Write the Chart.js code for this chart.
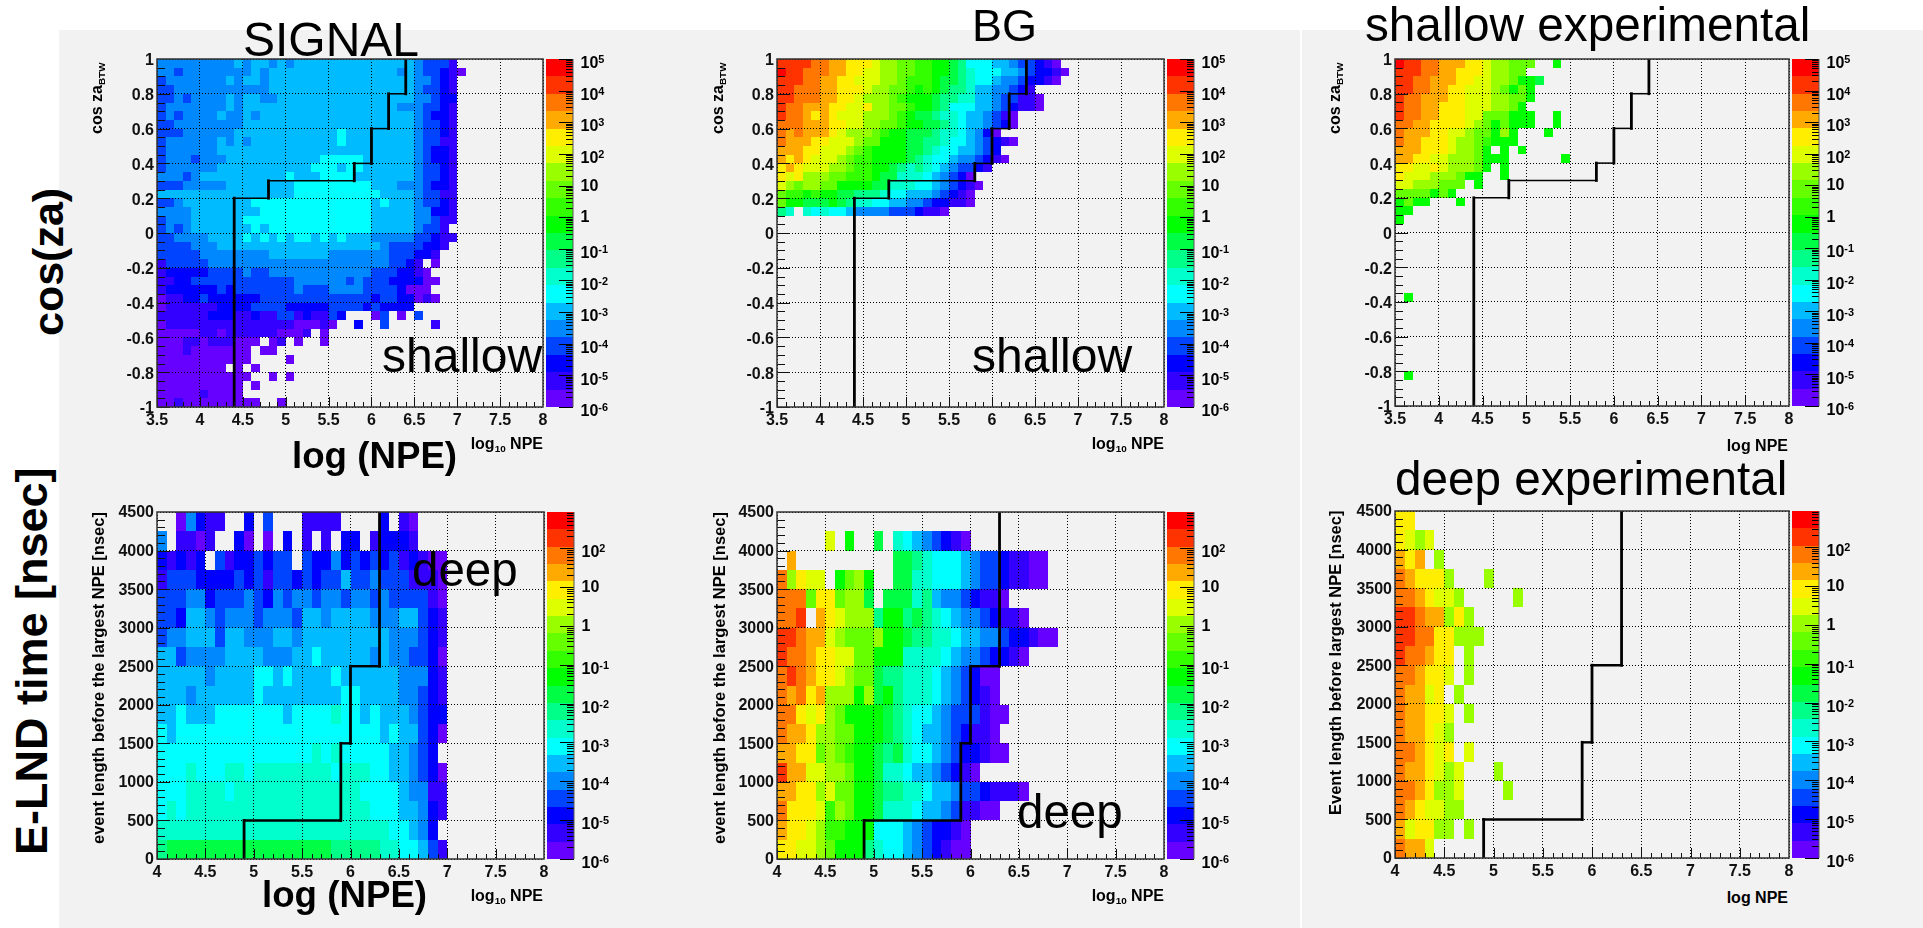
<!DOCTYPE html>
<html>
<head>
<meta charset="utf-8">
<title>NPE cut plots</title>
<script src="https://cdn.jsdelivr.net/npm/chart.js@4"></script>
<style>
  html, body { margin: 0; width: 1923px; height: 928px; overflow: hidden; background: #fff; font-family: "Liberation Sans", Arial, sans-serif; }
  .bg { position: absolute; top: 30px; bottom: 0; background: #f2f2f2; }
  canvas { position: absolute; }
  .t { position: absolute; white-space: nowrap; line-height: 1; color: #000; z-index: 5; }
  .v { transform: rotate(-90deg); transform-origin: 0 0; }
  sub { font-size: 62%; line-height: 0; vertical-align: -0.28em; }
  sup { font-size: 68%; line-height: 0; vertical-align: 0.5em; }
</style>
</head>
<body>
<div class="bg" style="left:59px;width:1241px"></div>
<div class="bg" style="left:1302px;right:0"></div>
<canvas id="signalShallow" width="526" height="388"></canvas>
<canvas id="bgShallow" width="527" height="388"></canvas>
<canvas id="expShallow" width="534" height="387"></canvas>
<canvas id="signalDeep" width="527" height="387"></canvas>
<canvas id="bgDeep" width="527" height="387"></canvas>
<canvas id="expDeep" width="534" height="387"></canvas>
<script>
// colour bands of the z axis, bottom to top
const palette = ['#6600ff', '#3300ff', '#0000ff', '#0044ff', '#0088ff', '#00bbff', '#00ffff', '#00ffcc', '#00ff88', '#00ff44',
  '#00ff00', '#33ff00', '#66ff00', '#99ff00', '#ddff00', '#ffee00', '#ffaa00', '#ff7700', '#ff3300', '#ff0000'];

const shallowXTicks = [3.5, 4, 4.5, 5, 5.5, 6, 6.5, 7, 7.5, 8];
const shallowYTicks = [-1, -0.8, -0.6, -0.4, -0.2, 0, 0.2, 0.4, 0.6, 0.8, 1];
const deepXTicks = [4, 4.5, 5, 5.5, 6, 6.5, 7, 7.5, 8];
const deepYTicks = [0, 500, 1000, 1500, 2000, 2500, 3000, 3500, 4000, 4500];
const shallowZTicks = [-6, -5, -4, -3, -2, -1, 0, 1, 2, 3, 4, 5];
const deepZTicks = [-6, -5, -4, -3, -2, -1, 0, 1, 2];

// selection cut, same for all panels of a row
const shallowCutX = [4.4, 4.4, 4.8, 4.8, 5.8, 5.8, 6, 6, 6.2, 6.2, 6.4, 6.4];
const shallowCutY = [-1, 0.2, 0.2, 0.3, 0.3, 0.4, 0.4, 0.6, 0.6, 0.8, 0.8, 1];
const deepCutX = [4.9, 4.9, 5.9, 5.9, 6, 6, 6.3, 6.3];
const deepCutY = [0, 500, 500, 1500, 1500, 2500, 2500, 4500];

// Histogram rows, top row first. One char per 0.1 log NPE bin: colour band 0-9,a-j, '.' = empty.
// Spaces only split the bins in tens.
const signalShallowRows = [
  '4444444445 4554545555 5555555555 43331',
  '4434444444 4545555555 5555555545 433210',
  '3444444454 5545555555 5555555555 44321',
  '3344444444 4445555555 5555555555 43321',
  '3343444454 5544555555 5555555555 44322',
  '3444444454 5555555555 5555555544 43321',
  '3434444544 5455555555 5555555555 43221',
  '3344444444 5555555555 5555555555 43321',
  '3334444445 5555555555 5655555555 43321',
  '3444444545 4555555555 5655555555 43311',
  '3444444555 5555555555 5555555555 43221',
  '3444344455 5555555556 6666555555 43221',
  '3444444555 5555555566 6566555555 43321',
  '4443455555 5555565556 6665555555 43321',
  '3334444455 5555556666 6666655544 43221',
  '5555555555 5555556666 6666665555 43311',
  '3345555555 5666666666 6666656555 43321',
  '4444555555 5566666666 6666655555 44221',
  '3444555555 6666666666 6666655555 44311',
  '3434555555 5656666666 6666655555 4331',
  '3344445555 6565656656 5655544444 33211',
  '3333444555 5555555555 5555554333 3221',
  '3333344444 4445555555 4444444333 221',
  '1333334444 4444444444 4444444332 1.0',
  '1222223333 4334444444 4444433322 10',
  '1122333333 3333334444 4434333222 200',
  '1222222323 3333334333 4444333320 00',
  '0112232222 2233333333 3333323322 010',
  '0111111222 2333322222 3333232222',
  '1111112221 1211331211 32...03.0. 3',
  '0111111111 1111110001 0..2..3... ..1',
  '0000011011 1111000 1.0',
  '0001101110 00.01.0..0',
  '0001000000 0.00',
  '0000000000 0....0',
  '00000000.0 .0',
  '0000000000 0..0.0',
  '0000000000 .0',
  '0000010000',
  '0010000000 00..0',
];
const bgShallowRows = [
  'iiiihhggff feddccbbaa 9866655433 210',
  'jiihhhggff eeddccbbaa 9876665543 2210',
  'iiihhggffe eeddcbbba9 9876654432 210',
  'iihhhggfff eddccbaba9 8875544321',
  'iihhhggffe dddcbaaa98 8775543311 0',
  'ihhgggffee fddccbaa98 6665543211 0',
  'ihhgfgfeee dddcba9987 76554310',
  'hhhgggffee ddccbaa998 76554320',
  'hghgggfedd dcbaa99987 765420',
  'hgggffeeed ccaaa99887 66543210',
  'gggffeeedc baaaa99876 655432',
  'gfgfeeedcb baaaa98766 5443210',
  'fgfeeeddcb baa9878765 43321',
  'fefdddccbb ba99777654 320',
  'edcddccaaa a997776654 3210',
  'cbbabaa998 8876655543 210',
  'caa999a987 7665544322 110',
  '87.7676654 4443332110',
];
const expShallowRows = [
  'jiihhgggff eddccc..a',
  'iiihhggfff eddcc',
  'iihhgggffe eddcaa9',
  'iihhggffee edcaca',
  'ihhgggffee eddcca',
  'ihhggfffee eddca',
  'ihhggfffee cccaaa..a',
  'hhggffffed cacaaa..a',
  'hgggffeedc cada...a',
  'hggfffeddc baaa',
  'gggfffeddc a.a.a',
  'ggffeedddc aaa......a',
  'ffeefedddc a.a',
  'feeedddcaa ..a',
  'eedddccc.a',
  'ccccaca',
  'acaa...a',
  'aa',
  'a',
  '', '', '', '', '', '', '', '',
  '.a',
  '', '', '', '', '', '', '', '',
  '.a',
];
const signalDeepRows = [
  '..04211..2 .3...1111. ...2.10',
  '4.1101..20 .0.2.1.1.2 2.12221',
  '21212.3122 3233.32242 3232312100',
  '1333222232 3133232335 3343331110',
  '3334423334 3243443443 4434333310',
  '3325543444 3444355455 5544455321',
  '3445553554 4455455555 5555444321',
  '5534444555 5444556555 5545443320',
  '5555545555 6656555565 5555544421',
  '5554555555 6555555556 6555544321',
  '5565556666 6665666676 6565554322',
  '6566666666 6666666666 6665655320',
  '6666666666 6666667676 666655432.',
  '6667666776 7777777767 7766554320',
  '6667777677 7777777777 7666654411',
  '6767777777 7777777777 7766655421',
  '7777777777 7777777777 777766542.',
  '8999999999 9999999988 8887766531',
];
const bgDeepRows = [
  '',
  '.....e.a.. 9.76543210',
  '.g........ ..99876665 43321100',
  'hdfee.acda ..99776665 43321100',
  'hhhcffcdd9 .999785443 2110',
  'hhi.gfeddd 8aa8987654 432110',
  'iihggedccc daa9887765 544322100',
  'ihhgffeecc aaa7777654 432210',
  'hihgffedcc 9887776543 200',
  'hghfgdddad 9a87776543 210',
  'hhfefdcaaa a987665433 3100',
  'hggfddccaa a987655432 110',
  'ggffcdcbaa 9897665432 2100',
  'iggeeddcaa 9776554321 0',
  'ggffdeccaa 9887765543 321110',
  'hfffebdcaa 9777655431 100',
  'gffedbbaaa 6665432210',
  'ffeedcaaa8 7665432100',
];
const expDeepRows = [
  'ff',
  'fede',
  'gfg.d',
  'hgfffd...d',
  'hhgfeed... ..d',
  'iihggdfd',
  'iihhffddd',
  'ihhgff.d',
  'hhgffe.d',
  'hggef.d',
  'hggffe.d',
  'hggfed',
  'hhgfef.e',
  'hggfede... d',
  'hhgfdde... .d',
  'hgfeedd',
  'geffdd.d',
  'hgge',
];

const panels = [
  { id: 'signalShallow', rows: signalShallowRows, kind: 'shallow', box: [157, 543, 59, 407] },
  { id: 'bgShallow', rows: bgShallowRows, kind: 'shallow', box: [777, 1164, 59, 407] },
  { id: 'expShallow', rows: expShallowRows, kind: 'shallow', box: [1395, 1789, 59, 406] },
  { id: 'signalDeep', rows: signalDeepRows, kind: 'deep', box: [157, 544, 512, 859] },
  { id: 'bgDeep', rows: bgDeepRows, kind: 'deep', box: [777, 1164, 512, 859] },
  { id: 'expDeep', rows: expDeepRows, kind: 'deep', box: [1395, 1789, 511, 858] },
];

const kinds = {
  shallow: { xTicks: shallowXTicks, yTicks: shallowYTicks, zTicks: shallowZTicks, zMax: 5, binH: 0.05, ySub: 4, labelOffset: 2,
    cutX: shallowCutX, cutY: shallowCutY, cutV: 2.8, cutH: 1.5 },
  deep: { xTicks: deepXTicks, yTicks: deepYTicks, zTicks: deepZTicks, zMax: 2.93, binH: 250, ySub: 5, labelOffset: 1,
    cutX: deepCutX, cutY: deepCutY, cutV: 2.8, cutH: 2.4 },
};

function zLabel(n) {
  if (n === 0) return '1';
  if (n === 1) return '10';
  return '10<sup>' + n + '</sup>';
}

function rowsToCells(rows, xMin, yMax, binH) {
  const cells = [];
  rows.forEach((row, r) => {
    row.replace(/ /g, '').split('').forEach((c, i) => {
      if (c === '.') return;
      cells.push({ x: xMin + i * 0.1, y: yMax - (r + 1) * binH, band: parseInt(c, 20) });
    });
  });
  return cells;
}

// ROOT style: cells under the grid, inward ticks, frame and palette with log ticks
function histPlugin(kind) {
  return {
    id: 'hist',
    beforeDatasetsDraw(chart) {
      const { ctx, scales: { x, y } } = chart;
      ctx.save();
      chart.data.datasets[0].data.forEach(p => {
        const x0 = Math.round(x.getPixelForValue(p.x));
        const x1 = Math.round(x.getPixelForValue(p.x + 0.1));
        const y0 = Math.round(y.getPixelForValue(p.y + kind.binH));
        const y1 = Math.round(y.getPixelForValue(p.y));
        ctx.fillStyle = palette[p.band];
        ctx.fillRect(x0, y0, x1 - x0, y1 - y0);
      });
      ctx.restore();
    },
    afterDraw(chart) {
      const { ctx, chartArea: a, scales: { x, y, z } } = chart;
      ctx.save();

      // colour bar
      const barL = a.right + 3, barR = a.right + 30;
      const zStep = (kind.zMax + 6) / palette.length;
      palette.forEach((c, i) => {
        const top = Math.round(z.getPixelForValue(-6 + (i + 1) * zStep));
        const bot = Math.round(z.getPixelForValue(-6 + i * zStep));
        ctx.fillStyle = c;
        ctx.fillRect(barL, top, barR - barL, bot - top);
      });
      ctx.strokeStyle = '#000';
      ctx.lineWidth = 1;
      ctx.beginPath();
      kind.zTicks.forEach(n => {
        const py = Math.round(z.getPixelForValue(n)) + 0.5;
        ctx.moveTo(barR, py);
        ctx.lineTo(barR - 14, py);
        for (let m = 2; m < 10; m++) {
          const v = n + Math.log10(m);
          if (v > kind.zMax) break;
          const my = Math.round(z.getPixelForValue(v)) + 0.5;
          ctx.moveTo(barR, my);
          ctx.lineTo(barR - 7, my);
        }
      });
      ctx.stroke();
      ctx.strokeStyle = '#555';
      ctx.beginPath();
      ctx.moveTo(barR, a.top);
      ctx.lineTo(barR, a.bottom);
      ctx.stroke();

      // inward axis ticks
      ctx.strokeStyle = '#111';
      ctx.beginPath();
      const xt = kind.xTicks, yt = kind.yTicks;
      for (let i = 0; i < xt.length - 1; i++) {
        for (let s = 0; s < 5; s++) {
          const px = Math.round(x.getPixelForValue(xt[i] + (xt[i + 1] - xt[i]) * s / 5)) + 0.5;
          ctx.moveTo(px, a.bottom);
          ctx.lineTo(px, a.bottom - (s === 0 ? 10 : 5));
        }
      }
      for (let i = 0; i < yt.length - 1; i++) {
        for (let s = 0; s < kind.ySub; s++) {
          const py = Math.round(y.getPixelForValue(yt[i] + (yt[i + 1] - yt[i]) * s / kind.ySub)) + 0.5;
          ctx.moveTo(a.left, py);
          ctx.lineTo(a.left + (s === 0 ? 13 : 8), py);
        }
      }
      ctx.stroke();

      // frame
      ctx.strokeStyle = '#333';
      ctx.lineWidth = 1.5;
      ctx.strokeRect(a.left, a.top, a.right - a.left, a.bottom - a.top);
      ctx.restore();
    },
  };
}

function tickLabel(v) {
  return String(+(+v).toFixed(1));
}

// tick padding would otherwise be added to the plot margins
function fixBox(s, width, height) {
  if (width) s.width = width;
  if (height) s.height = height;
  s.paddingTop = s.paddingBottom = s.paddingLeft = s.paddingRight = 0;
}

const tickFont = { family: '"Liberation Sans", Arial, sans-serif', size: 16, weight: 'bold' };

panels.forEach(p => {
  const kind = kinds[p.kind];
  const [l, r, t, b] = p.box;
  const xt = kind.xTicks, yt = kind.yTicks;
  const xMin = xt[0], xMax = xt[xt.length - 1];
  const yMin = yt[0], yMax = yt[yt.length - 1];

  const canvas = document.getElementById(p.id);
  const canvasTop = t - 10;
  canvas.style.left = (l - 70) + 'px';
  canvas.style.top = canvasTop + 'px';

  const cut = kind.cutX.map((v, i) => ({ x: v, y: kind.cutY[i] }));

  const chart = new Chart(canvas, {
    type: 'scatter',
    data: {
      datasets: [
        { label: 'events', data: rowsToCells(p.rows, xMin, yMax, kind.binH), pointRadius: 0, pointHoverRadius: 0 },
        {
          label: 'cut',
          data: cut,
          showLine: true,
          pointRadius: 0,
          borderColor: '#000',
          borderWidth: kind.cutV,
          borderCapStyle: 'square',
          segment: { borderWidth: ctx => (ctx.p0.parsed.y === ctx.p1.parsed.y ? kind.cutH : kind.cutV) },
        },
      ],
    },
    options: {
      responsive: false,
      animation: false,
      events: [],
      layout: { autoPadding: false, padding: { left: 0, right: 0, top: 10, bottom: 0 } },
      plugins: { legend: { display: false }, title: { display: false }, tooltip: { enabled: false } },
      scales: {
        x: {
          type: 'linear',
          min: xMin,
          max: xMax,
          afterFit: s => fixBox(s, 0, 30),
          afterBuildTicks: s => { s.ticks = xt.map(value => ({ value })); },
          border: { display: false, dash: [1, 2] },
          grid: { z: 1, color: '#000', lineWidth: 1, drawTicks: false },
          ticks: { color: '#111', font: tickFont, padding: 4, maxRotation: 0, autoSkip: false, callback: tickLabel },
        },
        y: {
          type: 'linear',
          position: 'left',
          min: yMin,
          max: yMax,
          afterFit: s => fixBox(s, 70, 0),
          afterBuildTicks: s => { s.ticks = yt.map(value => ({ value })); },
          border: { display: false, dash: [1, 2] },
          grid: { z: 1, color: '#000', lineWidth: 1, drawTicks: false },
          ticks: { color: '#111', font: tickFont, padding: 3, autoSkip: false, labelOffset: kind.labelOffset, callback: tickLabel },
        },
        z: {
          type: 'linear',
          axis: 'y',
          position: 'right',
          min: -6,
          max: kind.zMax,
          afterFit: s => fixBox(s, 70, 0),
          afterBuildTicks: s => { s.ticks = kind.zTicks.map(value => ({ value })); },
          border: { display: false },
          grid: { display: false, drawTicks: false },
          ticks: { display: false },
        },
      },
    },
    plugins: [histPlugin(kind)],
  });

  // palette labels need real superscripts, so they are page text placed from the z scale
  kind.zTicks.forEach(n => {
    const py = canvasTop + chart.scales.z.getPixelForValue(n);
    const nudge = n === 0 || n === 1 ? 0 : 4;
    label(zLabel(n), r + 37.5, py + nudge + 5.7, 16, true);
  });
});

// big annotations and axis titles, baseline positioned
function label(html, x, baseline, size, bold, align) {
  const el = document.createElement('div');
  el.className = 't';
  el.innerHTML = html;
  el.style.fontSize = size + 'px';
  if (bold) el.style.fontWeight = 'bold';
  el.style.top = (baseline - 0.8465 * size) + 'px';
  if (align === 'right') el.style.right = (1923 - x) + 'px';
  else el.style.left = x + 'px';
  document.body.appendChild(el);
}

// rotated text reading upward: x is the baseline column, bottom the y where the text starts
function vlabel(html, x, bottom, size, bold) {
  const el = document.createElement('div');
  el.className = 't v';
  el.innerHTML = html;
  el.style.fontSize = size + 'px';
  if (bold) el.style.fontWeight = 'bold';
  el.style.left = (x - 0.8465 * size) + 'px';
  el.style.top = bottom + 'px';
  document.body.appendChild(el);
}

label('SIGNAL', 243, 57, 48);
label('BG', 972, 41, 45);
label('shallow experimental', 1365, 41, 47.7);
label('deep experimental', 1395, 495, 47.7);
label('shallow', 382, 373, 48);
label('shallow', 972, 373, 48);
label('deep', 412, 586, 47.5);
label('deep', 1017, 828, 47.5);
label('log (NPE)', 292, 469, 36.7, true);
label('log (NPE)', 262, 908, 36.7, true);
label('log<sub>10</sub> NPE', 543, 450, 16, true, 'right');
label('log<sub>10</sub> NPE', 1164, 450, 16, true, 'right');
label('log NPE', 1788, 452, 16, true, 'right');
label('log<sub>10</sub> NPE', 543, 902, 16, true, 'right');
label('log<sub>10</sub> NPE', 1164, 902, 16, true, 'right');
label('log NPE', 1788, 904, 16, true, 'right');

vlabel('cos(za)', 63, 336, 43, true);
vlabel('E-LND time [nsec]', 47, 855, 45, true);
vlabel('cos za<sub>BTW</sub>', 103, 134, 16, true);
vlabel('cos za<sub>BTW</sub>', 724, 134, 16, true);
vlabel('cos za<sub>BTW</sub>', 1341, 134, 16, true);
vlabel('event length before the largest NPE [nsec]', 104, 844, 16.5, true);
vlabel('event length before the largest NPE [nsec]', 725, 844, 16.5, true);
vlabel('Event length before largest NPE [nsec]', 1341, 815, 16.5, true);
</script>
</body>
</html>
